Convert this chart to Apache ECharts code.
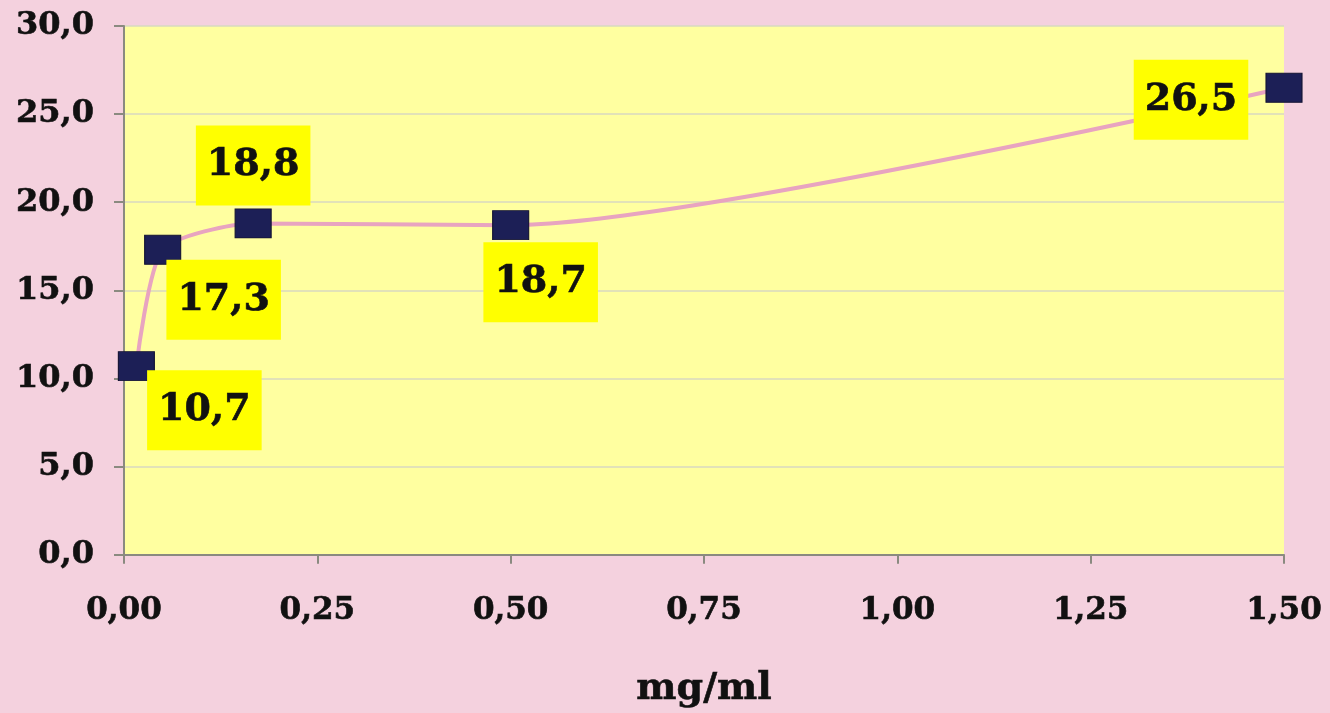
<!DOCTYPE html>
<html>
<head>
<meta charset="utf-8">
<script src="https://cdn.jsdelivr.net/npm/echarts@6/dist/echarts.min.js"></script>
<style>
html,body{margin:0;padding:0;background:#F4D1DE;}
#chart{width:1330px;height:713px;}
</style>
</head>
<body>
<div id="chart"></div>
<script>
// Data
var concentrations = [0.016, 0.05, 0.167, 0.5, 1.5];
var values = [10.7, 17.3, 18.8, 18.7, 26.5];
var xTicks = [0, 0.25, 0.5, 0.75, 1.0, 1.25, 1.5];
var yTicks = [0, 5, 10, 15, 20, 25, 30];
var xAxisName = 'mg/ml';

// label placement (style, not data)
var labelOffsets = [[68, 44], [61, 50], [0, -58], [30, 57], [-93, 12]];

var fmt = function (v, d) { return v.toFixed(d).replace('.', ','); };

var seriesData = concentrations.map(function (x, i) {
  return {
    value: [x, values[i]],
    label: { offset: labelOffsets[i] }
  };
});

var FONT = 'DejaVu Serif';
var chart = echarts.init(document.getElementById('chart'));
chart.setOption({
  backgroundColor: '#F4D1DE',
  animation: false,
  grid: {
    left: 124, right: 46, top: 26, bottom: 154,
    show: true, backgroundColor: '#FFFFA0', borderWidth: 0
  },
  xAxis: {
    type: 'value', min: 0, max: 1.5, interval: 0.25,
    name: xAxisName, nameLocation: 'middle', nameGap: 115,
    nameTextStyle: { fontFamily: FONT, fontWeight: 'bold', fontSize: 38, color: '#111',
      textBorderColor: '#111', textBorderWidth: 0.6 },
    axisLine: { show: true, lineStyle: { color: '#8a8a80', width: 2 } },
    axisTick: { show: true, inside: false, length: 9, lineStyle: { color: '#8a8a80', width: 2 } },
    axisLabel: { margin: 41, fontFamily: FONT, fontWeight: 'bold', fontSize: 31, color: '#111',
      textBorderColor: '#111', textBorderWidth: 0.6,
      formatter: function (v) { return fmt(v, 2); } },
    splitLine: { show: false }
  },
  yAxis: {
    type: 'value', min: 0, max: 30, interval: 5,
    axisLine: { show: true, lineStyle: { color: '#8a8a80', width: 2 } },
    axisTick: { show: true, length: 10, lineStyle: { color: '#8a8a80', width: 2 } },
    axisLabel: { margin: 30, fontFamily: FONT, fontWeight: 'bold', fontSize: 32, color: '#111',
      textBorderColor: '#111', textBorderWidth: 0.6,
      formatter: function (v) { return fmt(v, 1); } },
    splitLine: { show: true, lineStyle: { color: '#d8d8c0', width: 1.5 } }
  },
  series: [{
    type: 'line',
    data: seriesData,
    smooth: 0.22,
    symbol: 'rect',
    symbolSize: [36, 29],
    itemStyle: { color: '#1C1F56', borderColor: '#141433', borderWidth: 1 },
    lineStyle: { color: '#E8A4C0', width: 4 },
    label: {
      show: true,
      position: 'inside',
      fontFamily: FONT, fontWeight: 'bold', fontSize: 38, color: '#111',
      textBorderColor: '#111', textBorderWidth: 0.6,
      backgroundColor: '#FFFF00',
      padding: [22, 11, 20, 11],
      formatter: function (p) { return fmt(p.value[1], 1); }
    },
    z: 3
  }]
});
</script>
</body>
</html>
